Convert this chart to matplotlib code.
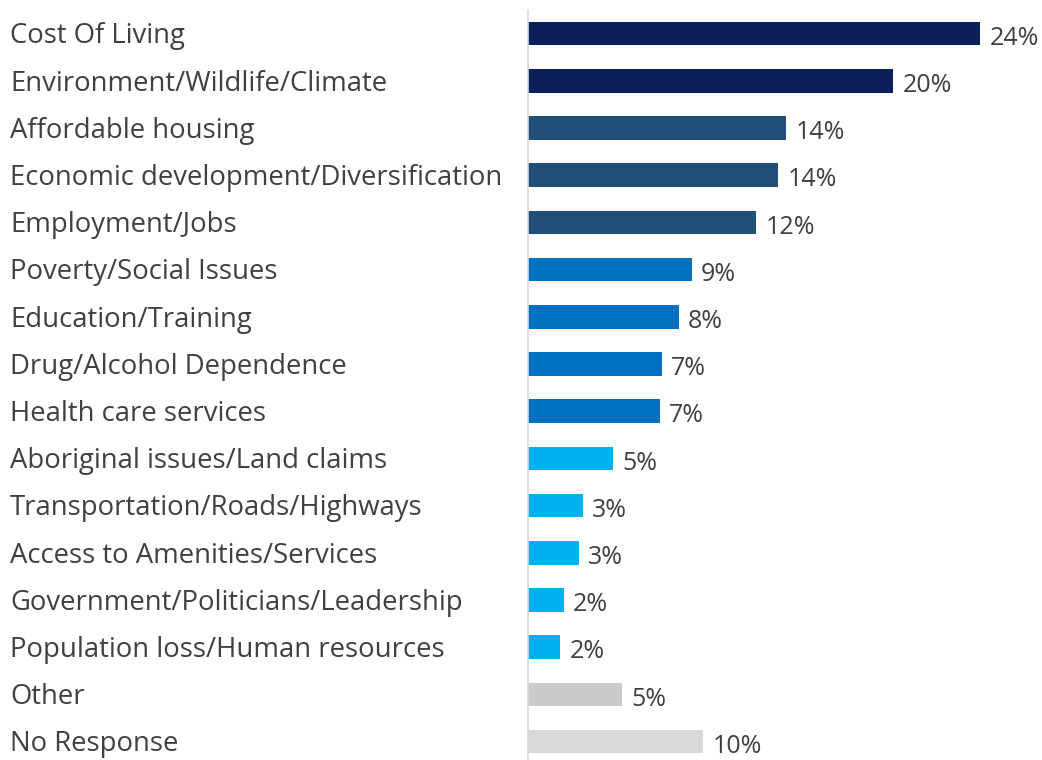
import matplotlib.pyplot as plt
import matplotlib.transforms as transforms

categories = ["Cost Of Living", "Environment/Wildlife/Climate", "Affordable housing",
              "Economic development/Diversification", "Employment/Jobs",
              "Poverty/Social Issues", "Education/Training", "Drug/Alcohol Dependence",
              "Health care services", "Aboriginal issues/Land claims",
              "Transportation/Roads/Highways", "Access to Amenities/Services",
              "Government/Politicians/Leadership", "Population loss/Human resources",
              "Other", "No Response"]
values = [24.0, 19.4, 13.7, 13.3, 12.1, 8.7, 8.0, 7.1, 7.0, 4.5, 2.9, 2.7, 1.9, 1.7, 5.0, 9.3]
labels = ["24%", "20%", "14%", "14%", "12%", "9%", "8%", "7%", "7%", "5%",
          "3%", "3%", "2%", "2%", "5%", "10%"]
colors = ["#0A1F5C", "#0A1F5C", "#1F4E79", "#1F4E79", "#1F4E79",
          "#0070C0", "#0070C0", "#0070C0", "#0070C0",
          "#00B0F0", "#00B0F0", "#00B0F0", "#00B0F0", "#00B0F0",
          "#CBCBCB", "#D9D9D9"]

plt.rcParams['font.family'] = ['Open Sans', 'DejaVu Sans']

fig = plt.figure(figsize=(10.42, 7.6), dpi=100)
ax = fig.add_axes([528 / 1042, 0, 1 - 528 / 1042, 750 / 760])

y = range(len(categories))
ax.barh(y, values, height=0.5, color=colors)
ax.set_xlim(0, 514 / 18.83)
ax.set_ylim(15.39, -0.5)

# category names sit at the left edge of the figure, aligned with the bars
trans = transforms.blended_transform_factory(fig.transFigure, ax.transData)
for i, (v, lab) in enumerate(zip(values, labels)):
    ax.text(v + 0.5, i + 0.1, lab, va='center', ha='left', fontsize=18, color='#404040')
    ax.text(10 / 1042, i + 0.06, categories[i], transform=trans, fontsize=19.8,
            color='#404040', va='center', ha='left')

ax.set_xticks([])
ax.set_yticks([])
for s in ['top', 'right', 'bottom']:
    ax.spines[s].set_visible(False)
ax.spines['left'].set_color('#D9D9D9')
ax.spines['left'].set_linewidth(1.2)

plt.savefig('out.png', dpi=100)
